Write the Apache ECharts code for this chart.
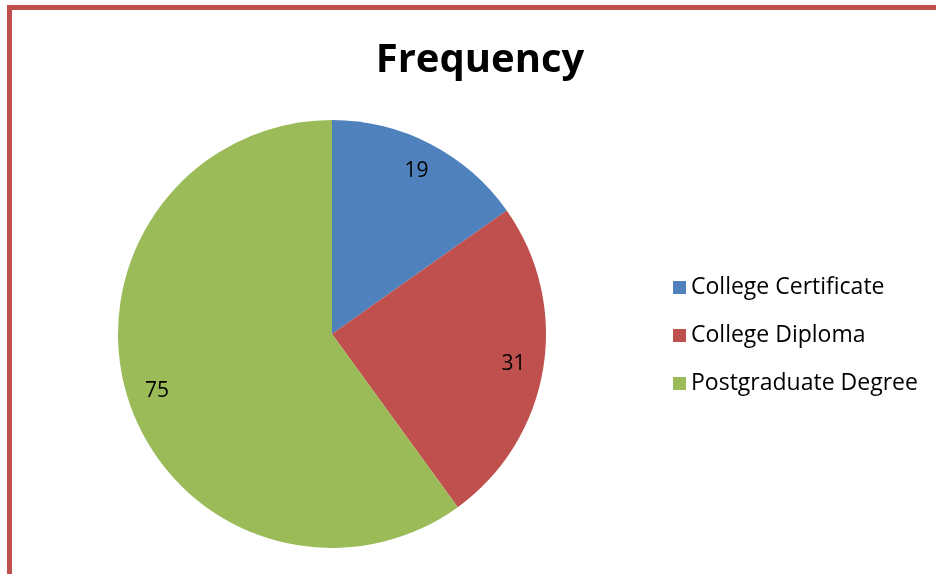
<!DOCTYPE html>
<html><head><meta charset="utf-8">
<script src="https://cdn.jsdelivr.net/npm/echarts@6/dist/echarts.min.js"></script>
<style>html,body{margin:0;padding:0;background:#fff}#c{width:936px;height:574px}</style>
</head><body><div id="c"></div>
<script>
const categories = ['College Certificate', 'College Diploma', 'Postgraduate Degree'];
const values = [19, 31, 75];
const colors = ['#4f81bd', '#c0504d', '#9bbb59'];
const titleText = 'Frequency';

const data = categories.map((n, i) => ({ name: n, value: values[i], itemStyle: { color: colors[i] } }));
const labelData = categories.map((n, i) => ({ name: n, value: values[i] }));

const chart = echarts.init(document.getElementById('c'));
chart.setOption({
  animation: false,
  backgroundColor: '#fff',
  title: {
    text: titleText, left: 475, top: 36, textAlign: 'center',
    textStyle: { fontFamily: 'Open Sans', fontWeight: 'bold', fontSize: 40, color: '#000' }
  },
  legend: {
    orient: 'vertical', left: 668, top: 271, itemWidth: 13, itemHeight: 13, itemGap: 25,
    data: categories.map((n, i) => ({ name: n, itemStyle: { color: colors[i] } })),
    icon: 'rect',
    textStyle: { fontFamily: 'Open Sans', fontSize: 23, color: '#000' }
  },
  graphic: [{
    type: 'rect', silent: true, z: 100,
    shape: { x: 9.5, y: 7.5, width: 2000, height: 2000 },
    style: { fill: 'none', stroke: '#c0504d', lineWidth: 5 }
  }],
  series: [{
    type: 'pie', center: [332, 334], radius: [0, 214], startAngle: 90, clockwise: true,
    data: data, label: { show: false }, labelLine: { show: false }, silent: true
  }, {
    type: 'pie', center: [332, 334], radius: [148, 214], startAngle: 90, clockwise: true,
    data: labelData, silent: true, legendHoverLink: false,
    itemStyle: { color: 'rgba(0,0,0,0)' },
    label: { show: true, position: 'inside', formatter: '{c}', fontFamily: 'Open Sans', fontSize: 21, color: '#000' },
    labelLine: { show: false }
  }]
});
</script></body></html>
